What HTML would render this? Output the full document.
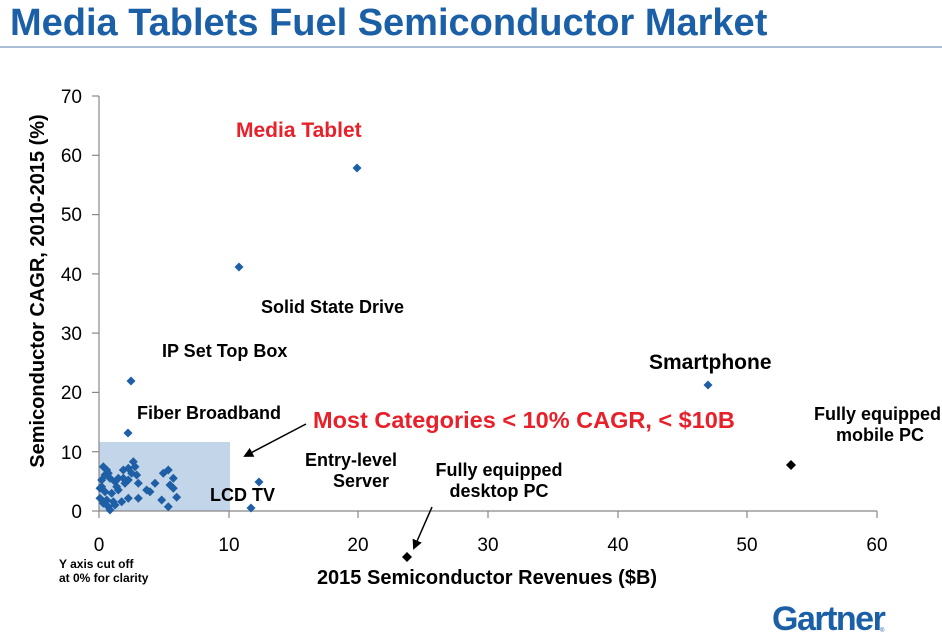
<!DOCTYPE html>
<html><head><style>
body{margin:0;background:#fff;}
svg{display:block;font-family:"Liberation Sans",Arial,sans-serif;}
</style></head><body>
<svg width="942" height="643" viewBox="0 0 942 643">
<defs>
<path id="d" d="M0,-4.5 L4.5,0 L0,4.5 L-4.5,0Z" fill="#1f5fa6"/>
<path id="k" d="M0,-5 L5,0 L0,5 L-5,0Z" fill="#000"/>
<marker id="ah" markerWidth="10" markerHeight="10" refX="8" refY="5" orient="auto" markerUnits="userSpaceOnUse"><path d="M0,0 L10,5 L0,10Z" fill="#000"/></marker>
</defs>
<text x="10" y="35" font-size="38" font-weight="bold" fill="#1b5fa6">Media Tablets Fuel Semiconductor Market</text>
<line x1="0" y1="47" x2="942" y2="47" stroke="#8fa9c8" stroke-width="1.5"/>
<rect x="99" y="442" width="131" height="69" fill="#c3d5e8"/>
<g stroke="#888" stroke-width="1.2">
<line x1="99" y1="96" x2="99" y2="511"/><line x1="99" y1="511" x2="877" y2="511"/>
<line x1="92" y1="96" x2="99" y2="96"/><line x1="92" y1="155.3" x2="99" y2="155.3"/><line x1="92" y1="214.6" x2="99" y2="214.6"/><line x1="92" y1="273.9" x2="99" y2="273.9"/><line x1="92" y1="333.1" x2="99" y2="333.1"/><line x1="92" y1="392.4" x2="99" y2="392.4"/><line x1="92" y1="451.7" x2="99" y2="451.7"/><line x1="92" y1="511" x2="99" y2="511"/>
<line x1="99" y1="511" x2="99" y2="518"/><line x1="229" y1="511" x2="229" y2="518"/><line x1="358" y1="511" x2="358" y2="518"/><line x1="488" y1="511" x2="488" y2="518"/><line x1="618" y1="511" x2="618" y2="518"/><line x1="747" y1="511" x2="747" y2="518"/><line x1="877" y1="511" x2="877" y2="518"/>
</g>
<g font-size="19" text-anchor="end" fill="#000">
<text x="82" y="103">70</text><text x="82" y="162">60</text><text x="82" y="221">50</text><text x="82" y="281">40</text><text x="82" y="340">30</text><text x="82" y="399">20</text><text x="82" y="459">10</text><text x="82" y="518">0</text>
</g>
<g font-size="19" text-anchor="middle" fill="#000">
<text x="99" y="551">0</text><text x="229" y="551">10</text><text x="358" y="551">20</text><text x="488" y="551">30</text><text x="618" y="551">40</text><text x="747" y="551">50</text><text x="877" y="551">60</text>
</g>
<text transform="translate(44,291) rotate(-90)" text-anchor="middle" font-size="20" font-weight="bold">Semiconductor CAGR, 2010-2015 (%)</text>
<text x="487" y="584" text-anchor="middle" font-size="20" font-weight="bold">2015 Semiconductor Revenues ($B)</text>
<text x="59" y="568" font-size="12" font-weight="bold">Y axis cut off</text>
<text x="59" y="582" font-size="12" font-weight="bold">at 0% for clarity</text>
<g font-weight="bold" font-size="18">
<text x="236" y="137" fill="#e8202a" font-size="21">Media Tablet</text>
<text x="261" y="313">Solid State Drive</text>
<text x="162" y="357">IP Set Top Box</text>
<text x="137" y="419">Fiber Broadband</text>
<text x="649" y="369" font-size="21">Smartphone</text>
<text x="941" y="420" text-anchor="end">Fully equipped</text>
<text x="924" y="441" text-anchor="end">mobile PC</text>
<text x="305" y="466">Entry-level</text>
<text x="333" y="487">Server</text>
<text x="210" y="501">LCD TV</text>
<text x="499" y="476" text-anchor="middle">Fully equipped</text>
<text x="499" y="497" text-anchor="middle">desktop PC</text>
<text x="313" y="428" fill="#e8202a" font-size="23.5">Most Categories &lt; 10% CAGR, &lt; $10B</text>
</g>
<line x1="306" y1="424" x2="245" y2="456" stroke="#000" stroke-width="1.5" marker-end="url(#ah)"/>
<line x1="432" y1="507" x2="414" y2="548" stroke="#000" stroke-width="1.5" marker-end="url(#ah)"/>
<use href="#d" x="357" y="168"/><use href="#d" x="239" y="267"/><use href="#d" x="131" y="381"/><use href="#d" x="128" y="433"/>
<use href="#d" x="708" y="385"/><use href="#d" x="251" y="508"/><use href="#d" x="259" y="482"/>
<use href="#k" x="791" y="465"/><use href="#k" x="407" y="557"/>
<use href="#d" x="103.3" y="466.7"/><use href="#d" x="106.7" y="470"/><use href="#d" x="105" y="475"/><use href="#d" x="108.3" y="473.3"/><use href="#d" x="101.7" y="480"/><use href="#d" x="110" y="478.3"/><use href="#d" x="115" y="481.7"/><use href="#d" x="118.3" y="478.3"/><use href="#d" x="123.3" y="470"/><use href="#d" x="128.3" y="468.3"/><use href="#d" x="133.3" y="461.7"/><use href="#d" x="135" y="466.7"/><use href="#d" x="131.7" y="473.3"/><use href="#d" x="128.3" y="480"/><use href="#d" x="125" y="483.3"/><use href="#d" x="138.3" y="483.3"/><use href="#d" x="136.7" y="475"/><use href="#d" x="101.7" y="486.7"/><use href="#d" x="105" y="491.7"/><use href="#d" x="100" y="498.3"/><use href="#d" x="106.7" y="500"/><use href="#d" x="111.7" y="493.3"/><use href="#d" x="118.3" y="490"/><use href="#d" x="113.3" y="501.7"/><use href="#d" x="108.3" y="506.7"/><use href="#d" x="115" y="505"/><use href="#d" x="121.7" y="501.7"/><use href="#d" x="128.3" y="498.3"/><use href="#d" x="138.3" y="498.3"/><use href="#d" x="146.7" y="490"/><use href="#d" x="150" y="491.7"/><use href="#d" x="155" y="483.3"/><use href="#d" x="163.3" y="473.3"/><use href="#d" x="168.3" y="470"/><use href="#d" x="173.3" y="478.3"/><use href="#d" x="170" y="485"/><use href="#d" x="173.3" y="488.3"/><use href="#d" x="161.7" y="500"/><use href="#d" x="168.3" y="506.7"/><use href="#d" x="176.7" y="497.3"/><use href="#d" x="110" y="510"/><use href="#d" x="100" y="488.3"/><use href="#d" x="103.3" y="503.3"/><use href="#d" x="116.7" y="486.7"/><use href="#d" x="123.3" y="478.3"/>
<text x="772" y="630" font-size="34" font-weight="bold" fill="#1b5fa6" letter-spacing="-1.5">Gartner</text>
<text x="880" y="632" font-size="6" fill="#1b5fa6">®</text>
</svg>
</body></html>
